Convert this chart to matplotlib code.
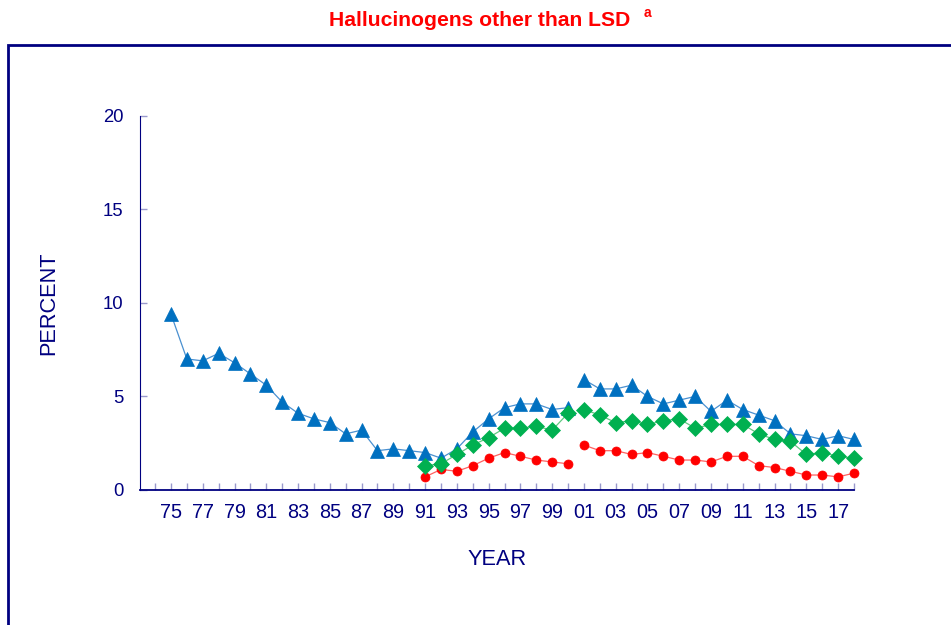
import numpy as np
from matplotlib import pyplot as plt
from matplotlib.patches import Rectangle

plt.rcParams["font.family"] = ["Liberation Sans", "DejaVu Sans"]

NAVY = "#000080"
TICK = "#9999cc"

years = list(range(1975, 2019))
years_new = list(range(1991, 2019))

# triangles (blue), 1975-2018
blue_vals = [9.4, 7.0, 6.9, 7.3, 6.8, 6.2, 5.6, 4.7, 4.1, 3.8, 3.6, 3.0, 3.2, 2.1,
             2.2, 2.1, 2.0, 1.7, 2.2, 3.1, 3.8, 4.4, 4.6, 4.6, 4.3, 4.4, 5.9, 5.4,
             5.4, 5.6, 5.0, 4.6, 4.8, 5.0, 4.2, 4.8, 4.3, 4.0, 3.7, 3.0, 2.9, 2.7,
             2.9, 2.7]
# diamonds (green), 1991-2018
green_vals = [1.3, 1.4, 1.9, 2.4, 2.8, 3.3, 3.3, 3.4, 3.2, 4.1, 4.3, 4.0, 3.6, 3.7,
              3.5, 3.7, 3.8, 3.3, 3.5, 3.5, 3.5, 3.0, 2.7, 2.6, 1.9, 2.0, 1.8, 1.7]
# circles (red), 1991-2018
red_vals = [0.7, 1.1, 1.0, 1.3, 1.7, 2.0, 1.8, 1.6, 1.5, 1.4, 2.4, 2.1, 2.1, 1.9,
            2.0, 1.8, 1.6, 1.6, 1.5, 1.8, 1.8, 1.3, 1.2, 1.0, 0.8, 0.8, 0.7, 0.9]

series = [
    (years, blue_vals, "^", "#0070c0", "#4a90d0", 10.5),
    (years_new, red_vals, "o", "#ff0000", "#ff6060", 6.5),
    (years_new, green_vals, "D", "#00b050", "#60c880", 8),
]

fig = plt.figure(figsize=(9.51, 6.25), dpi=100)
ax = fig.add_axes([0.1472, 0.216, 0.898 - 0.1472, 0.815 - 0.216])

for xs, vals, marker, mcolor, lcolor, ms in series:
    xs = np.array(xs)
    vals = np.array(vals)
    # question wording changed in 2001 -> break the line
    for mask in (xs <= 2000, xs >= 2001):
        ax.plot(xs[mask], vals[mask], color=lcolor, linewidth=0.9,
                marker=marker, markersize=ms, markerfacecolor=mcolor,
                markeredgecolor=mcolor, markeredgewidth=0.5, clip_on=False)

ax.set_xlim(1973.05, 2018)
ax.set_ylim(0, 20)

ax.set_yticks([0, 5, 10, 15, 20])
ax.set_xticks(list(range(1974, 2019)))
ax.set_xticklabels([f"{y % 100:02d}" if y % 2 == 1 else "" for y in range(1974, 2019)])

ax.tick_params(axis="both", direction="in", length=5, width=1, color=TICK,
               labelcolor=NAVY)
ax.tick_params(axis="x", labelsize=14.3, pad=9)
ax.tick_params(axis="y", labelsize=13.3, pad=12)

for side in ("top", "right"):
    ax.spines[side].set_visible(False)
ax.spines["left"].set_color(NAVY)
ax.spines["left"].set_linewidth(0.8)
ax.spines["bottom"].set_color(NAVY)
ax.spines["bottom"].set_linewidth(1.3)

ax.set_ylabel("PERCENT", fontsize=15.7, color=NAVY, labelpad=31)
ax.set_xlabel("YEAR", fontsize=15.7, color=NAVY, labelpad=20)

fig.text(0.504, 0.968, "Hallucinogens other than LSD", ha="center", va="center",
         fontsize=15.2, fontweight="bold", color="#ff0000")
fig.text(0.681, 0.979, "a", ha="center", va="center",
         fontsize=10, fontweight="bold", color="#ff0000")

# outer frame (runs off the right and bottom edges)
fig.patches.append(Rectangle((8 / 951, -0.1), 1.0, 0.1 + 1 - 45 / 625,
                             transform=fig.transFigure, fill=False,
                             edgecolor=NAVY, linewidth=2))

plt.savefig("out.png", dpi=100)
